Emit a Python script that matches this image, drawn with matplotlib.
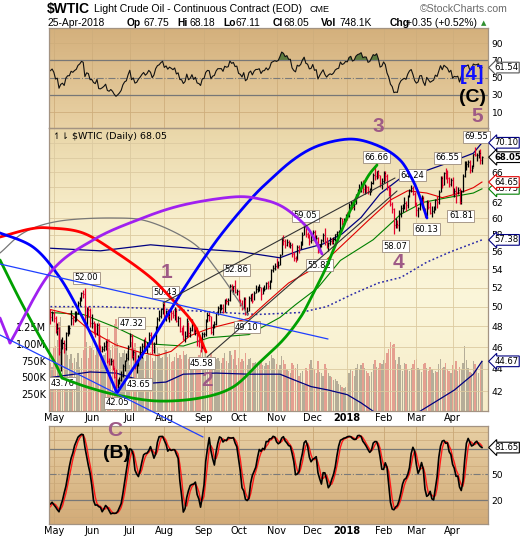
import numpy as np
import pandas as pd
import matplotlib
matplotlib.use("Agg")
import matplotlib.pyplot as plt
import matplotlib.ticker as mticker
from matplotlib.colors import LinearSegmentedColormap

# ---------------- data ----------------
holidays = ["2017-04-14", "2017-05-29", "2017-07-04", "2017-09-04", "2017-11-23",
            "2017-12-25", "2018-01-01", "2018-01-15", "2018-02-19", "2018-03-30"]

# lead-in days 3-26 Apr 2017, only to warm up RSI / stochastics
pre_high = [50.95, 51.13, 51.71, 51.79, 52.94, 53.13, 53.76, 53.48, 53.49,
            53.29, 52.86, 52.98, 51.00, 50.83, 50.05, 49.88, 50.15]
pre_low = [49.88, 50.08, 50.56, 50.91, 51.35, 52.18, 52.64, 52.91, 52.99,
           52.56, 52.08, 50.25, 50.00, 49.42, 48.93, 48.91, 48.63]
pre_close = [50.24, 51.03, 51.15, 51.70, 52.24, 53.08, 53.40, 53.11, 53.18,
             52.65, 52.41, 50.44, 50.27, 49.62, 49.23, 49.56, 49.62]

# 27 Apr 2017 .. 25 Apr 2018
high = [
    49.74, 49.55,
    49.54, 49.02, 48.33, 47.98, 46.76, 47.00, 46.67, 47.45, 48.12, 48.12, 49.66, 49.01, 49.52, 49.56, 50.55, 51.01, 51.55, 51.75, 52.00, 49.93, 50.03, 49.82,
    49.29, 48.54, 48.34, 48.36, 48.33, 46.18, 46.13, 46.52, 46.72, 46.79, 44.94, 44.93, 44.89, 44.19, 43.99, 43.08, 43.27, 43.78, 44.38, 44.81, 45.44, 46.24,
    47.32, 47.21, 45.74, 45.61, 44.78, 45.25, 46.12, 46.38, 46.82, 46.93, 46.51, 47.45, 47.48, 46.80, 46.44, 48.02, 48.95, 49.63, 49.84, 50.37,
    50.43, 49.65, 49.80, 49.65, 49.64, 49.66, 49.98, 49.82, 49.00, 48.94, 47.91, 48.17, 47.56, 48.81, 48.47, 47.91, 48.75, 48.25, 48.13, 47.94, 46.89, 46.64, 47.46,
    47.49, 48.78, 49.42, 49.42, 49.06, 48.26, 48.50, 49.48, 50.05, 50.32, 50.24, 50.24, 50.81, 50.94, 50.92, 52.43, 52.37, 52.19, 52.86, 51.89,
    51.70, 50.81, 50.74, 50.98, 50.99, 49.96, 51.06, 51.37, 51.41, 51.60, 52.23, 52.18, 52.35, 52.02, 52.06, 52.32, 52.62, 52.77, 52.79, 54.06, 54.47, 54.66,
    55.22, 54.88, 55.73, 57.69, 57.92, 57.46, 57.47, 57.31, 57.14, 56.98, 56.00, 55.55, 56.72, 56.83, 57.19, 58.27, 59.05, 59.01, 58.36, 58.08, 58.20,
    58.61, 58.56, 57.92, 57.76, 56.84, 57.54, 58.18, 58.80, 57.76, 57.17, 57.75, 57.58, 57.72, 58.13, 58.39, 58.60, 60.12, 59.98, 60.00, 60.51,
    60.74, 61.95, 62.21, 62.04, 61.96, 63.12, 63.67, 64.33, 64.77, 64.89, 64.37, 64.20, 64.11, 63.83, 64.74, 65.83, 66.66, 66.20, 66.21, 65.63, 65.14,
    66.07, 66.17, 65.75, 64.25, 64.04, 62.06, 61.25, 60.09, 59.73, 61.07, 61.64, 61.77, 62.63, 62.14, 62.96, 63.73, 64.24, 64.15, 63.32,
    62.10, 61.43, 62.73, 62.90, 62.85, 61.27, 62.28, 62.30, 61.99, 61.48, 61.50, 62.47, 62.77, 63.57, 65.46, 65.44, 66.04, 66.55, 66.24, 65.28, 65.13,
    65.30, 63.84, 64.07, 63.93, 63.92, 63.55, 65.70, 67.45, 67.45, 67.68, 67.60, 67.02, 68.56, 69.55, 68.69, 69.08, 69.23, 68.18,
]
low = [
    48.25, 48.59,
    48.49, 47.33, 47.19, 45.27, 43.76, 45.81, 45.47, 45.74, 47.08, 47.21, 48.14, 48.14, 48.42, 48.50, 49.26, 50.10, 50.59, 50.91, 48.44, 48.18, 48.96, 47.99,
    47.83, 47.24, 46.94, 47.18, 45.53, 45.20, 45.52, 45.60, 45.73, 44.54, 44.35, 44.37, 43.92, 43.15, 42.05, 42.31, 42.63, 42.93, 43.23, 43.80, 44.66, 44.79,
    46.04, 45.02, 44.83, 43.94, 43.65, 44.23, 45.08, 44.99, 45.70, 45.81, 45.41, 46.03, 46.61, 45.38, 45.40, 46.33, 47.87, 48.59, 48.83, 49.27,
    48.85, 48.53, 48.75, 48.49, 48.69, 48.87, 48.65, 48.47, 48.03, 47.48, 47.16, 46.71, 46.46, 46.96, 47.03, 46.99, 47.56, 47.24, 47.13, 46.11, 45.99, 45.58, 45.89,
    46.97, 47.05, 48.42, 48.51, 47.29, 47.18, 47.89, 48.14, 49.13, 49.40, 49.66, 49.39, 49.41, 50.29, 50.15, 50.59, 51.61, 51.35, 51.45, 51.22,
    50.47, 50.09, 49.67, 49.80, 49.10, 49.13, 49.53, 50.60, 50.33, 50.66, 51.38, 51.56, 51.60, 50.71, 51.29, 51.66, 51.86, 51.80, 51.88, 52.56, 53.71, 53.88,
    54.16, 54.15, 54.53, 55.58, 56.82, 56.48, 56.64, 56.51, 56.37, 55.40, 54.99, 54.81, 55.02, 55.84, 56.30, 56.81, 57.94, 57.70, 57.58, 56.75, 56.96,
    57.34, 57.19, 56.86, 55.82, 55.97, 56.56, 57.18, 56.80, 56.42, 56.11, 56.82, 56.88, 56.93, 57.28, 57.70, 57.87, 58.44, 59.21, 59.20, 59.75,
    59.82, 60.10, 61.38, 61.10, 61.04, 61.79, 62.82, 63.32, 63.37, 63.16, 63.07, 63.14, 63.09, 62.98, 63.31, 64.41, 64.97, 65.08, 65.23, 64.05, 63.68,
    64.47, 64.85, 63.55, 62.79, 61.56, 60.68, 58.07, 58.85, 58.84, 58.40, 60.11, 60.72, 61.11, 60.87, 61.28, 62.70, 63.30, 62.90, 61.53,
    60.30, 60.16, 61.04, 62.00, 61.01, 60.13, 60.29, 61.10, 60.52, 60.17, 60.60, 61.03, 61.33, 61.84, 63.34, 63.91, 64.22, 65.00, 64.48, 64.05, 64.11,
    62.89, 62.63, 61.86, 63.05, 61.81, 61.84, 63.34, 65.30, 66.21, 66.65, 65.84, 65.95, 66.70, 68.18, 67.48, 67.91, 67.14, 67.11,
]
close = [
    48.97, 49.33,
    48.84, 47.66, 47.82, 45.52, 46.22, 46.43, 45.88, 47.33, 47.83, 47.84, 48.85, 48.66, 49.07, 49.35, 50.33, 50.73, 51.47, 51.36, 48.90, 49.80, 49.66, 48.32,
    48.36, 47.66, 47.40, 48.19, 45.72, 45.64, 45.83, 46.08, 46.46, 44.73, 44.46, 44.74, 44.20, 43.23, 42.53, 42.74, 43.01, 43.38, 44.24, 44.74, 44.93, 46.04,
    47.07, 45.13, 45.52, 44.23, 44.40, 45.04, 45.49, 46.08, 46.54, 46.02, 46.40, 47.12, 46.79, 45.77, 46.34, 47.89, 48.75, 49.04, 49.71, 50.17,
    49.16, 49.59, 49.03, 49.58, 49.39, 49.17, 49.56, 48.59, 48.82, 47.59, 47.55, 46.78, 47.09, 48.51, 47.37, 47.64, 48.41, 47.43, 47.87, 46.57, 46.44, 45.96, 47.23,
    47.29, 48.66, 49.16, 49.09, 47.48, 48.07, 48.23, 49.30, 49.89, 49.89, 49.91, 49.48, 50.69, 50.55, 50.66, 52.22, 51.88, 52.14, 51.56, 51.67,
    50.58, 50.42, 49.98, 50.79, 49.29, 49.58, 50.92, 51.30, 50.60, 51.45, 51.87, 51.88, 52.04, 51.29, 51.84, 51.90, 52.47, 52.18, 52.64, 53.90, 54.15, 54.38,
    54.30, 54.54, 55.64, 57.35, 57.20, 56.81, 57.17, 56.74, 56.76, 55.70, 55.33, 55.14, 56.55, 56.42, 56.83, 58.02, 58.95, 58.11, 57.99, 57.30, 57.40,
    58.36, 57.47, 57.62, 55.96, 56.69, 57.36, 57.99, 57.14, 56.60, 57.04, 57.30, 57.16, 57.46, 58.09, 58.36, 58.47, 59.97, 59.64, 59.84, 60.42,
    60.37, 61.63, 62.01, 61.44, 61.73, 62.96, 63.57, 63.80, 64.30, 63.73, 63.97, 63.95, 63.37, 63.57, 64.47, 65.61, 65.51, 66.14, 65.56, 64.50, 64.73,
    65.80, 65.45, 64.15, 63.39, 61.79, 61.15, 59.20, 59.29, 59.19, 60.60, 61.34, 61.68, 61.90, 61.68, 62.77, 63.55, 63.91, 63.01, 61.64,
    60.99, 61.25, 62.57, 62.60, 61.15, 60.18, 62.04, 61.36, 60.71, 60.96, 61.19, 62.34, 62.06, 63.40, 65.17, 64.30, 65.88, 65.55, 65.25, 64.38, 64.94,
    63.01, 63.51, 63.37, 63.54, 62.06, 63.42, 65.51, 66.82, 67.07, 67.39, 66.22, 66.52, 68.47, 68.29, 68.38, 68.64, 67.70, 68.05,
]
volume_k = [
    720, 650,
    930, 970, 1050, 1330, 1400, 1030, 910, 990, 840, 770, 850, 710, 790, 730, 870, 660, 790, 910, 1300, 1020, 790, 970,
    930, 910, 840, 970, 1360, 1130, 790, 840, 870, 1240, 1070, 910, 980, 1290, 1370, 1010, 870, 800, 870, 910, 840, 890,
    690, 1030, 940, 1010, 900, 840, 870, 840, 790, 740, 830, 860, 880, 790, 750, 970, 950, 870, 790, 810,
    930, 910, 800, 850, 730, 750, 810, 870, 790, 830, 770, 890, 840, 850, 770, 740, 790, 760, 710, 790, 830, 910, 990,
    710, 870, 790, 770, 870, 750, 730, 770, 790, 750, 710, 790, 870, 750, 710, 890, 830, 770, 910, 690,
    790, 730, 770, 750, 870, 690, 770, 790, 710, 710, 730, 670, 710, 730, 690, 670, 710, 690, 750, 830, 790, 770,
    700, 620, 680, 820, 760, 700, 620, 600, 560, 720, 680, 640, 700, 520, 560, 600, 380, 640, 600, 700, 760,
    640, 620, 560, 740, 580, 560, 520, 700, 640, 560, 520, 500, 460, 480, 440, 400, 380, 360, 340, 360,
    420, 560, 620, 600, 520, 640, 700, 620, 680, 720, 640, 600, 560, 520, 580, 700, 760, 660, 640, 720, 700,
    760, 720, 860, 920, 1020, 980, 1000, 760, 700, 800, 680, 600, 720, 700, 620, 600, 640, 700, 760,
    780, 640, 620, 580, 700, 720, 640, 600, 660, 620, 560, 600, 580, 700, 780, 640, 660, 720, 620, 600, 560,
    680, 620, 740, 600, 660, 620, 720, 960, 760, 640, 580, 560, 740, 700, 620, 560, 680, 748,
]

# overlay lines (trading-day index from 27 Apr 2017, price)
ma50_x = [0, 12, 23, 38, 52, 62, 70, 81, 92, 115, 125, 138, 158, 177, 184, 197, 207, 218, 227, 237, 245, 250]
ma50_y = [49.7, 49.2, 47.6, 46.2, 45.5, 45.2, 45.6, 47.1, 47.8, 48.8, 50.4, 52.5, 54.7, 58.3, 59.7, 62.3, 63.5, 63.2, 62.6, 63.2, 63.9, 64.65]
ma100_x = [0, 19, 38, 58, 77, 92, 115, 133, 142, 155, 168, 187, 203, 216, 230, 245, 250]
ma100_y = [49.4, 49.2, 47.9, 46.3, 46.1, 46.9, 47.2, 48.9, 50.2, 52.0, 55.0, 57.4, 60.5, 62.0, 62.6, 63.2, 63.75]
ma200_x = [0, 30, 60, 90, 120, 145, 160, 175, 190, 203, 218, 232, 250]
ma200_y = [50.0, 50.0, 49.8, 49.5, 49.2, 49.4, 50.0, 51.3, 52.5, 53.1, 54.8, 56.0, 57.38]
band_hi_x = [0, 29, 58, 87, 110, 123, 133, 145, 158, 169, 180, 191, 203, 219, 232, 245, 250]
band_hi_y = [56.4, 56.1, 56.8, 56.3, 56.0, 55.6, 55.3, 56.2, 56.9, 58.1, 60.1, 63.1, 65.2, 66.3, 67.4, 68.6, 70.10]
band_lo_x = [0, 23, 38, 58, 67, 77, 96, 115, 133, 141, 151, 161, 172, 180, 188, 200, 213, 222, 234, 245, 250]
band_lo_y = [43.2, 43.7, 43.6, 42.7, 42.8, 43.5, 43.6, 43.5, 43.5, 43.0, 42.4, 42.1, 41.7, 41.0, 40.2, 39.4, 40.2, 41.0, 42.1, 43.5, 44.67]

pivots = [("2017-05-05", 43.76, "low"), ("2017-05-25", 52.00, "high"), ("2017-06-21", 42.05, "low"),
          ("2017-07-03", 47.32, "high"), ("2017-07-10", 43.65, "low"), ("2017-08-01", 50.43, "high"),
          ("2017-08-30", 45.58, "low"), ("2017-09-28", 52.86, "high"), ("2017-10-06", 49.10, "low"),
          ("2017-11-24", 59.05, "high"), ("2017-12-06", 55.82, "low"), ("2018-01-25", 66.66, "high"),
          ("2018-02-09", 58.07, "low"), ("2018-02-26", 64.24, "high"), ("2018-03-08", 60.13, "low"),
          ("2018-03-26", 66.55, "high"), ("2018-04-06", 61.81, "low"), ("2018-04-19", 69.55, "high")]

rsi_last = 61.54
stoch_last = 81.65
hdr = {"date": "25-Apr-2018", "Op": "67.75", "Hi": "68.18", "Lo": "67.11", "Cl": "68.05",
       "Vol": "748.1K", "Chg": "+0.35 (+0.52%)"}

# ---------------- prep ----------------
dates = pd.bdate_range("2017-04-03", "2018-04-25", freq="C", holidays=holidays)
n_pre = len(pre_close)
assert len(dates) == n_pre + len(close), (len(dates), n_pre + len(close))
assert len(high) == len(low) == len(close) == len(volume_k)
main_dates = dates[n_pre:]
x = np.arange(len(close))
idx_of = {d.strftime("%Y-%m-%d"): i for i, d in enumerate(main_dates)}

h_all = pd.Series(pre_high + high)
l_all = pd.Series(pre_low + low)
c_all = pd.Series(pre_close + close)

# RSI(14), Wilder smoothing
d = c_all.diff()
up = d.clip(lower=0).ewm(alpha=1 / 14, adjust=False).mean()
dn = (-d.clip(upper=0)).ewm(alpha=1 / 14, adjust=False).mean()
rsi = (100 - 100 / (1 + up / dn)).values[n_pre:]

# slow stochastics 14,3
ll = l_all.rolling(14, min_periods=1).min()
hh = h_all.rolling(14, min_periods=1).max()
raw_k = 100 * (c_all - ll) / (hh - ll)
slow_k = raw_k.rolling(3, min_periods=1).mean()
slow_d = slow_k.rolling(3, min_periods=1).mean()
slow_k = slow_k.values[n_pre:]
slow_d = slow_d.values[n_pre:]

prev = np.array([pre_close[-1]] + close[:-1])
is_up = np.array(close) >= prev

# month ticks = first trading day of each month
month_idx, month_lab = [], []
for i, dt in enumerate(main_dates):
    if i > 0 and dt.month != main_dates[i - 1].month:
        month_idx.append(i)
        month_lab.append("2018" if dt.month == 1 else dt.strftime("%b"))

# ---------------- figure ----------------
W, H = 520, 540
fig = plt.figure(figsize=(W / 100, H / 100), dpi=100)
fig.patch.set_facecolor("white")


def rect(l, t, r, b):
    return [l / W, 1 - b / H, (r - l) / W, (b - t) / H]


def gradient(r, stops):
    bg = fig.add_axes(r, zorder=0)
    cmap = LinearSegmentedColormap.from_list("g", stops)
    bg.imshow(np.linspace(0, 1, 256)[:, None], aspect="auto", cmap=cmap)
    bg.axis("off")


r_rsi, r_main, r_sto = rect(49, 28, 488, 128), rect(49, 128, 488, 411), rect(49, 426, 488, 524)
gradient(r_rsi, [(0, "#d4b07c"), (1, "#e9d2a5")])
gradient(r_main, [(0, "#e9d6a8"), (0.3, "#f7edca"), (0.6, "#fbf6da"), (1, "#f6ecc8")])
gradient(r_sto, [(0, "#e7cfa4"), (1, "#d2ab78")])

spine_c = "#a39382"
xlim = (-0.8, 253.5)


def style(a, grid_c):
    a.patch.set_visible(False)
    for s in a.spines.values():
        s.set_color(spine_c)
        s.set_linewidth(0.9)
    a.set_xlim(*xlim)
    a.set_xticks(month_idx)
    a.grid(True, axis="x", color=grid_c, lw=0.6)
    a.yaxis.tick_right()
    a.tick_params(axis="both", length=0, labelsize=6.6, pad=2.5)


def tag(a, val, ec, bold=False):
    a.annotate(f"{val:.2f}", (1, val), xycoords=("axes fraction", "data"),
               xytext=(4.5, 0), textcoords="offset points", ha="left", va="center",
               fontsize=6.1, fontweight="bold" if bold else "normal", annotation_clip=False,
               bbox=dict(boxstyle="larrow,pad=0.1", fc="white", ec=ec, lw=0.8), zorder=7)


# ---- main price panel ----
ax = fig.add_axes(r_main, zorder=3)
axv = ax.twinx()
ax.set_zorder(3)
axv.set_zorder(2)
axv.patch.set_visible(False)
for s in axv.spines.values():
    s.set_visible(False)
axv.bar(x, np.array(volume_k) * 1000, width=0.78,
        color=np.where(is_up, "#b5ad98", "#e59f90"), zorder=1)
axv.set_ylim(0, 4.21e6)
axv.yaxis.tick_left()
axv.set_yticks([250e3, 500e3, 750e3, 1e6, 1.25e6])
axv.set_yticklabels(["250K", "500K", "750K", "1.00M", "1.25M"])
axv.tick_params(axis="y", length=0, labelsize=7, pad=2)

style(ax, "#dccaa0")
ax.set_yscale("log")
ax.set_ylim(40.32, 72.27)
price_ticks = list(range(42, 71, 2))
ax.set_yticks(price_ticks)
# labels 64/68/70 sit under the value tags on the reference
ax.set_yticklabels(["" if t in (64, 68, 70) else str(t) for t in price_ticks])
ax.yaxis.set_minor_locator(mticker.NullLocator())
ax.grid(True, axis="y", color="#dccaa0", lw=0.6)
ax.set_xticklabels(month_lab)
ax.tick_params(axis="x", labelsize=7, pad=1.5)
for t in ax.get_xticklabels():
    if t.get_text() == "2018":
        t.set_fontweight("bold")

ax.plot(band_hi_x, band_hi_y, color="#000080", lw=0.9, zorder=2)
ax.plot(band_lo_x, band_lo_y, color="#000080", lw=0.9, zorder=2)
ax.plot(ma200_x, ma200_y, color="#2a2aa8", lw=1.1, ls=(0, (1.2, 1.6)), zorder=2)
ax.plot(ma100_x, ma100_y, color="#008000", lw=0.8, zorder=2)
ax.plot(ma50_x, ma50_y, color="#e00000", lw=0.8, zorder=2)

bar_c = np.where(is_up, "#000000", "#e4002b")
ax.vlines(x, low, high, colors=bar_c, lw=0.9, zorder=3)
ax.hlines(close, x, x + 0.6, colors=bar_c, lw=0.9, zorder=3)

for ds, p, kind in pivots:
    dy = 7.2 if kind == "high" else -8.6
    ax.annotate(f"{p:.2f}", (idx_of[ds], p), xytext=(1, dy), textcoords="offset points",
                ha="center", va="center", fontsize=6, zorder=6,
                bbox=dict(boxstyle="square,pad=0.18", fc="white", ec="#a89a8a", lw=0.7))

ax.text(0.008, 0.985, "\u21bf\u21c2 $WTIC (Daily) 68.05", transform=ax.transAxes,
        fontsize=6.8, va="top", ha="left", zorder=6)

tag(ax, ma200_y[-1], "#000080")
tag(ax, band_lo_y[-1], "#000080")
tag(ax, ma100_y[-1], "#008000")
tag(ax, ma50_y[-1], "#e00000")
tag(ax, band_hi_y[-1], "#000080")
tag(ax, close[-1], "#000000", bold=True)

# ---- RSI panel ----
ar = fig.add_axes(r_rsi, zorder=3)
style(ar, "#cfae7c")
ar.set_xticklabels([])
ar.set_ylim(-8.5, 107.4)
ar.set_yticks([10, 30, 50, 70, 90])
for lv in (10, 90):
    ar.axhline(lv, color="#cfae7c", lw=0.6)
ar.axhline(70, color="#777777", lw=0.9)
ar.axhline(30, color="#777777", lw=0.9)
ar.axhline(50, color="#7a7a7a", lw=0.8, ls="-.")
ar.fill_between(x, rsi, 70, where=rsi > 70, interpolate=True, color="#5d7b3f", lw=0)
ar.plot(x, rsi, color="#111111", lw=0.8)
tag(ar, rsi_last, "#555555")

# ---- stochastic panel ----
ast = fig.add_axes(r_sto, zorder=3)
style(ast, "#c9a674")
ast.set_xticklabels(month_lab)
ast.tick_params(axis="x", labelsize=7, pad=1.5)
for t in ast.get_xticklabels():
    if t.get_text() == "2018":
        t.set_fontweight("bold")
ast.set_ylim(-8.2, 107)
ast.set_yticks([20, 50, 80])
ast.set_yticklabels(["20", "50", ""])
for lv in (0, 10, 30, 40, 60, 70, 90, 100):
    ast.axhline(lv, color="#cba97a", lw=0.5)
ast.axhline(80, color="#777777", lw=0.9)
ast.axhline(20, color="#777777", lw=0.9)
ast.axhline(50, color="#7a7a7a", lw=0.8, ls="-.")
ast.plot(x, slow_d, color="#ff1a1a", lw=1.0)
ast.plot(x, slow_k, color="#000000", lw=1.2)
tag(ast, stoch_last, "#000000")


# ---------------- header ----------------
def ftext(px, py, s, **kw):
    kw.setdefault("family", "Liberation Sans")
    kw.setdefault("va", "center")
    fig.text(px / W, 1 - py / H, s, **kw)


ftext(47, 9, "$WTIC", fontsize=10, fontweight="bold")
ftext(94, 9, "Light Crude Oil - Continuous Contract (EOD)", fontsize=7.6)
ftext(310, 9, "CME", fontsize=6.5)
ftext(508, 9, "\u00a9StockCharts.com", fontsize=7.6, color="#6a6a6a", ha="right")
ftext(48, 23, hdr["date"], fontsize=7.4)
for lab, lx, vx in [("Op", 127, 143), ("Hi", 177, 189), ("Lo", 223, 236), ("Cl", 273, 284),
                    ("Vol", 321, 339), ("Chg", 390, 406)]:
    ftext(lx, 23, lab, fontsize=7.4, fontweight="bold")
    ftext(vx, 23, hdr[lab], fontsize=7.4)
ftext(481, 23, "\u25b2", fontsize=5, color="#2f8f2f", family="DejaVu Sans")

# ---------------- hand-drawn annotations (pixel coords) ----------------
ov = fig.add_axes([0, 0, 1, 1], zorder=20)
ov.set_xlim(0, W)
ov.set_ylim(H, 0)
ov.axis("off")


def smooth(pts, n=14):
    p = np.array(pts, float)
    if len(p) < 3:
        return p
    p = np.vstack([2 * p[0] - p[1], p, 2 * p[-1] - p[-2]])
    out = []
    t = np.linspace(0, 1, n, endpoint=False)[:, None]
    for i in range(1, len(p) - 2):
        p0, p1, p2, p3 = p[i - 1], p[i], p[i + 1], p[i + 2]
        out.append(0.5 * (2 * p1 + (-p0 + p2) * t + (2 * p0 - 5 * p1 + 4 * p2 - p3) * t ** 2
                          + (-p0 + 3 * p1 - 3 * p2 + p3) * t ** 3))
    out.append(p[-2][None, :])
    return np.vstack(out)


drawings = [
    ("#777777", 0.9, [(0, 253), (25, 232), (60, 221), (113, 218), (150, 222), (193, 243), (217, 270), (240, 303), (248, 315)]),
    ("#ff0000", 2.0, [(0, 237), (30, 229), (50, 228), (83, 233), (117, 253), (150, 277), (170, 297), (193, 323), (206, 352)]),
    ("#0000ff", 2.0, [(-10, 230), (0, 233), (33, 247), (58, 275), (77, 307), (97, 347), (117, 393)]),
    ("#0000ff", 2.0, [(117, 393), (150, 343), (183, 290), (217, 240), (250, 200), (270, 180), (293, 160), (315, 147),
                      (340, 140), (360, 140), (383, 148), (400, 160), (410, 175), (418, 192), (427, 218)]),
    ("#00a000", 2.0, [(0, 260), (20, 300), (40, 337), (55, 363), (62, 378)]),
    ("#00a000", 2.0, [(62, 378), (87, 387), (117, 395), (157, 401), (200, 398), (233, 387), (260, 362), (283, 340),
                      (300, 318), (310, 300), (325, 270), (333, 251), (350, 211), (367, 178), (377, 165)]),
    ("#a020f0", 2.0, [(0, 318), (10, 343)]),
    ("#a020f0", 2.0, [(10, 343), (50, 273), (93, 240), (140, 219), (183, 205), (233, 197), (260, 199), (283, 207),
                      (305, 225), (315, 240), (322, 254)]),
    ("#1f3fff", 0.9, [(0, 264), (328, 339)]),
    ("#1f3fff", 0.9, [(0, 335), (203, 437)]),
    ("#333333", 0.8, [(163, 303), (395, 178)]),
    ("#333333", 0.8, [(207, 357), (397, 191)]),
]
for col, lw, pts in drawings:
    s = smooth(pts)
    ov.plot(s[:, 0], s[:, 1], color=col, lw=lw, solid_capstyle="round")

wave_c = "#9e5a86"
for s, px, py in [("1", 167, 272), ("2", 207, 380), ("3", 378, 127), ("4", 398, 263),
                  ("5", 477, 117), ("C", 115, 431)]:
    ov.text(px, py, s, color=wave_c, fontsize=15, fontweight="bold", family="Liberation Sans",
            ha="center", va="center")
ov.text(117, 453, "(B)", fontsize=14, fontweight="bold", family="Liberation Sans", ha="center", va="center")
ov.text(473, 97, "(C)", fontsize=14, fontweight="bold", family="Liberation Sans", ha="center", va="center")
ov.text(472, 75, "[4]", fontsize=14.5, fontweight="bold", color="#1010ff", family="Liberation Sans",
        ha="center", va="center")

fig.savefig("out.png", dpi=100)
